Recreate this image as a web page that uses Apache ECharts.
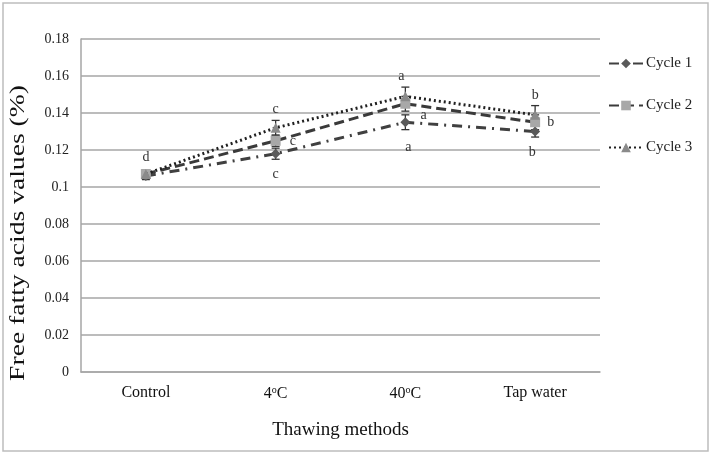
<!DOCTYPE html>
<html>
<head>
<meta charset="utf-8">
<script src="https://cdn.jsdelivr.net/npm/echarts@6/dist/echarts.min.js"></script>
<style>
html,body{margin:0;padding:0;background:#fff;}
#chart{width:712px;height:455px;}
</style>
</head>
<body>
<div id="chart"></div>
<script>
// ---- data ----
var categories = ['Control', '4°C', '40°C', 'Tap water'];
var seriesNames = ['Cycle 1', 'Cycle 2', 'Cycle 3'];
var cycle1 = [0.106, 0.118, 0.135, 0.130];
var cycle2 = [0.107, 0.125, 0.145, 0.135];
var cycle3 = [0.107, 0.132, 0.149, 0.139];
var err1 = [0.002, 0.003, 0.004, 0.003];
var err2 = [0.002, 0.003, 0.004, 0.004];
var err3 = [0.002, 0.004, 0.005, 0.005];
var letters1 = ['', 'c', 'a', 'b'];
var letters2 = ['', 'c', 'a', 'b'];
var letters3 = ['d', 'c', 'a', 'b'];
var yTicks = [0, 0.02, 0.04, 0.06, 0.08, 0.1, 0.12, 0.14, 0.16, 0.18];
var xTitle = 'Thawing methods';
var yTitle = 'Free fatty acids values (%)';

var FONT = '"Liberation Serif", "Times New Roman", serif';
var chart = echarts.init(document.getElementById('chart'));

function errData(vals, errs) {
  return vals.map(function (v, i) { return [i, v - errs[i], v + errs[i]]; });
}
function errRender(params, api) {
  var x = api.value(0);
  var lo = api.coord([x, api.value(1)]);
  var hi = api.coord([x, api.value(2)]);
  var w = 4;
  var st = { stroke: '#333', lineWidth: 1.3 };
  return {
    type: 'group',
    children: [
      { type: 'line', shape: { x1: lo[0], y1: lo[1], x2: hi[0], y2: hi[1] }, style: st },
      { type: 'line', shape: { x1: lo[0] - w, y1: lo[1], x2: lo[0] + w, y2: lo[1] }, style: st },
      { type: 'line', shape: { x1: hi[0] - w, y1: hi[1], x2: hi[0] + w, y2: hi[1] }, style: st }
    ]
  };
}
function withLabels(vals, letters, pos, offsets) {
  return vals.map(function (v, i) {
    return {
      value: v,
      label: {
        show: !!letters[i],
        formatter: letters[i],
        position: pos,
        offset: offsets ? offsets[i] : [0, 0]
      }
    };
  });
}
var labelStyle = { fontFamily: FONT, fontSize: 14, color: '#333' };

var option = {
  backgroundColor: '#fff',
  animation: false,
  grid: { left: 81, right: 112, top: 39, bottom: 83 },
  graphic: [
    { type: 'rect', shape: { x: 3, y: 3, width: 705, height: 448 },
      style: { fill: 'none', stroke: '#bdbdbd', lineWidth: 1.5 }, z: -1 },
    { type: 'text', x: 19, y: 233, rotation: Math.PI / 2, scaleX: 1.38,
      style: { text: yTitle, font: '20px ' + FONT, fill: '#111',
               align: 'center', verticalAlign: 'middle' } }
  ],
  legend: {
    orient: 'vertical',
    left: 603, top: 51,
    itemWidth: 34, itemHeight: 12, itemGap: 27,
    data: seriesNames,
    textStyle: { fontFamily: FONT, fontSize: 15, color: '#222', padding: [0, 0, 0, -2] }
  },
  xAxis: {
    type: 'category',
    data: categories,
    boundaryGap: true,
    axisLine: { show: true, lineStyle: { color: '#a6a6a6', width: 1.5 } },
    axisTick: { show: false },
    axisLabel: {
      margin: 13,
      fontFamily: FONT, fontSize: 16, color: '#111',
      formatter: function (v) { return v.replace('°', '{s|o}'); },
      rich: { s: { fontFamily: FONT, fontSize: 10, verticalAlign: 'top', padding: [0, 0, 8, 0], color: '#111' } }
    },
    name: xTitle,
    nameLocation: 'middle',
    nameGap: 49,
    nameTextStyle: { fontFamily: FONT, fontSize: 19, color: '#111' }
  },
  yAxis: {
    type: 'value',
    min: 0, max: 0.18, interval: 0.02,
    axisLine: { show: true, lineStyle: { color: '#a6a6a6', width: 1.5 } },
    axisTick: { show: false },
    splitLine: { lineStyle: { color: '#a6a6a6', width: 1.5 } },
    axisLabel: {
      margin: 12,
      fontFamily: FONT, fontSize: 14, color: '#222',
      formatter: function (v) {
        var t = yTicks.find(function (k) { return Math.abs(k - v) < 1e-9; });
        return t === undefined ? '' : String(+t.toFixed(2));
      }
    }
  },
  series: [
    {
      type: 'custom', name: 'err1', renderItem: errRender, data: errData(cycle1, err1), z: 1,
      encode: { x: 0, y: [1, 2] }, silent: true
    },
    {
      type: 'custom', name: 'err2', renderItem: errRender, data: errData(cycle2, err2), z: 1,
      encode: { x: 0, y: [1, 2] }, silent: true
    },
    {
      type: 'custom', name: 'err3', renderItem: errRender, data: errData(cycle3, err3), z: 1,
      encode: { x: 0, y: [1, 2] }, silent: true
    },
    {
      name: 'Cycle 1', type: 'line', z: 3,
      data: withLabels(cycle1, letters1, 'bottom', [[0, 0], [0, 4], [3, 8], [-3, 4]]),
      symbol: 'diamond', symbolSize: 10,
      itemStyle: { color: '#5a5a5a' },
      lineStyle: { color: '#404040', width: 3, type: [10, 6, 2, 6] },
      label: labelStyle
    },
    {
      name: 'Cycle 2', type: 'line', z: 3,
      data: withLabels(cycle2, letters2, 'right', [[0, 0], [4, 1], [5, 12], [2, 0]]),
      symbol: 'rect', symbolSize: 10,
      itemStyle: { color: '#a8a8a8' },
      lineStyle: { color: '#3a3a3a', width: 3, type: [10, 5] },
      label: labelStyle
    },
    {
      name: 'Cycle 3', type: 'line', z: 4,
      data: withLabels(cycle3, letters3, 'top', [[0, 0], [0, -1], [-4, -3], [0, -3]]),
      symbol: 'triangle', symbolSize: 10,
      itemStyle: { color: '#8a8a8a' },
      lineStyle: { color: '#202020', width: 3, type: [2, 3] },
      label: labelStyle
    }
  ]
};
chart.setOption(option);
</script>
</body>
</html>
